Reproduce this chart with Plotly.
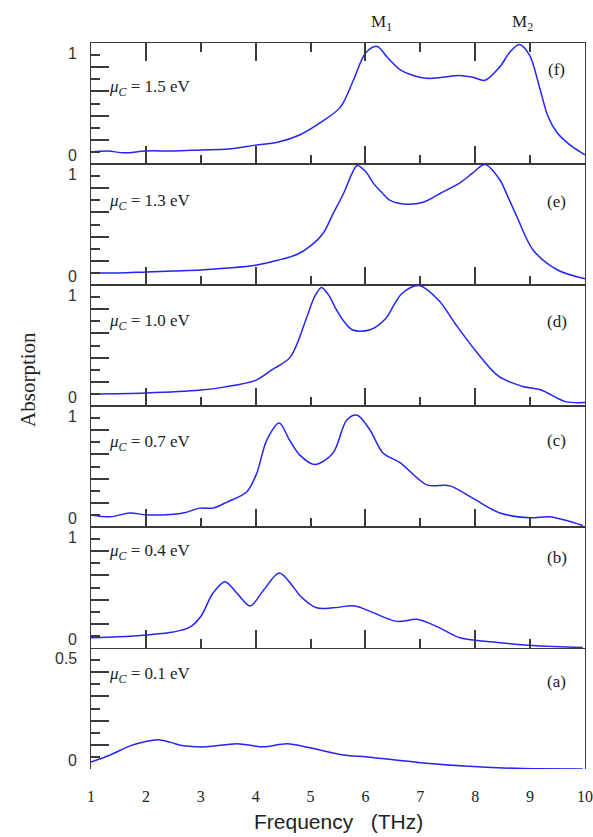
import plotly.graph_objects as go
from plotly.subplots import make_subplots

# ---------------- data ----------------
freq_ticks = [1, 2, 3, 4, 5, 6, 7, 8, 9, 10]
panel_letters = ["f", "e", "d", "c", "b", "a"]
mu_values = ["1.5", "1.3", "1.0", "0.7", "0.4", "0.1"]

f_x = [1.0, 1.3, 1.6, 2.0, 2.5, 3.0, 3.5, 4.0, 4.4, 4.8, 5.17, 5.54, 5.78, 6.0, 6.21, 6.41,
       6.63, 6.87, 7.12, 7.4, 7.72, 7.96, 8.18, 8.45, 8.63, 8.8, 8.99, 9.17, 9.33, 9.49, 9.73, 10.0]
f_y = [0.0, 0.01, -0.01, 0.01, 0.01, 0.02, 0.03, 0.07, 0.10, 0.175, 0.30, 0.46, 0.74, 1.02, 1.09, 0.97,
       0.85, 0.79, 0.76, 0.77, 0.79, 0.77, 0.74, 0.88, 1.03, 1.11, 1.0, 0.67, 0.36, 0.20, 0.07, -0.03]

e_x = [1.0, 1.5, 2.0, 2.5, 3.0, 3.5, 4.0, 4.4, 4.75, 5.0, 5.23, 5.4, 5.6, 5.75, 5.85, 6.0, 6.14,
       6.3, 6.45, 6.75, 7.05, 7.36, 7.72, 7.95, 8.18, 8.45, 8.6, 8.76, 9.05, 9.5, 10.0]
e_y = [0.0, 0.0, 0.01, 0.02, 0.03, 0.05, 0.08, 0.13, 0.19, 0.28, 0.41, 0.6, 0.82, 1.02, 1.11, 1.05, 0.93,
       0.83, 0.75, 0.71, 0.73, 0.82, 0.93, 1.03, 1.12, 0.96, 0.78, 0.58, 0.24, 0.03, -0.06]

d_x = [1.0, 2.0, 3.0, 3.42, 4.0, 4.3, 4.63, 4.93, 5.07, 5.2, 5.33, 5.47, 5.62, 5.77, 6.07, 6.37,
       6.52, 6.67, 6.97, 7.33, 7.63, 8.0, 8.43, 8.85, 9.2, 9.64, 10.0]
d_y = [0.0, 0.01, 0.04, 0.07, 0.14, 0.25, 0.38, 0.79, 1.0, 1.10, 1.02, 0.87, 0.74, 0.66, 0.66, 0.78,
       0.92, 1.04, 1.12, 0.97, 0.73, 0.45, 0.18, 0.08, 0.04, -0.08, -0.09]

c_x = [1.0, 1.35, 1.71, 2.02, 2.68, 2.98, 3.22, 3.47, 3.84, 4.02, 4.2, 4.43, 4.62, 4.8, 5.08, 5.41,
       5.66, 5.85, 6.08, 6.32, 6.63, 7.12, 7.54, 7.96, 8.45, 9.0, 9.36, 9.96]
c_y = [0.0, -0.02, 0.02, 0.0, 0.02, 0.07, 0.07, 0.13, 0.24, 0.43, 0.77, 0.95, 0.77, 0.62, 0.52, 0.64,
       0.98, 1.03, 0.88, 0.64, 0.54, 0.31, 0.30, 0.17, 0.02, -0.03, -0.02, -0.11]

b_x = [1.0, 1.5, 2.02, 2.5, 2.8, 3.0, 3.22, 3.44, 3.66, 3.9, 4.14, 4.43, 4.68, 4.8, 5.11, 5.41,
       5.81, 6.14, 6.57, 6.96, 7.36, 7.72, 8.45, 9.05, 9.96]
b_y = [-0.02, -0.01, 0.01, 0.04, 0.09, 0.2, 0.44, 0.56, 0.44, 0.31, 0.47, 0.65, 0.51, 0.42, 0.29, 0.29,
       0.31, 0.24, 0.15, 0.17, 0.08, -0.02, -0.07, -0.1, -0.12]

a_x = [1.0, 1.35, 1.71, 2.0, 2.23, 2.45, 2.69, 3.11, 3.66, 4.14, 4.57, 4.99, 5.6, 6.03, 7.0, 7.96, 8.87, 9.96]
a_y = [-0.026, 0.01, 0.057, 0.08, 0.089, 0.075, 0.057, 0.052, 0.068, 0.052, 0.068, 0.047, 0.01, 0.0,
       -0.03, -0.05, -0.06, -0.062]

series_x = [f_x, e_x, d_x, c_x, b_x, a_x]
series_y = [f_y, e_y, d_y, c_y, b_y, a_y]

y_full_range = [-0.125, 1.125]
y_small_range = [-0.0625, 0.5625]
y_long_ticks_full = [0.125, 0.375, 0.625, 0.875]
y_short_ticks_full = [0.0, 0.25, 0.5, 0.75, 1.0]
y_long_ticks_small = [0.0625, 0.1875, 0.3125, 0.4375]
y_short_ticks_small = [0.0, 0.125, 0.25, 0.375, 0.5]
y_label_full = [0, 1]
y_label_small = [0, 0.5]

x_long_ticks = [2, 4, 6, 8]
x_short_ticks = [3, 5, 7, 9]

mode_labels = ["M<sub>1</sub>", "M<sub>2</sub>"]
mode_x = [6.3, 8.87]

# ---------------- figure ----------------
AX = "#3a3a3a"
SERIF = "Liberation Serif, Times New Roman, serif"
SANS = "Liberation Sans, Arial, sans-serif"

fig = make_subplots(rows=6, cols=1, shared_xaxes=True, vertical_spacing=0)

for i in range(6):
    tr = go.Scatter(x=series_x[i], y=series_y[i], mode="lines",
                    line=dict(color="#2424f5", width=1.5, shape="spline", smoothing=0.9),
                    showlegend=False, hoverinfo="skip")
    if i < 5:
        fig.add_trace(tr, row=i + 1, col=1)
    else:
        # bottom panel drawn on the overlaying axis that carries the frequency labels
        tr.update(xaxis="x7", yaxis="y6")
        fig.add_trace(tr)

for r in range(1, 7):
    fig.update_xaxes(range=[1, 10], showline=True, linecolor=AX, linewidth=1.3, automargin=False,
                     mirror="allticks" if r == 1 else True,
                     ticks="inside", tickvals=x_long_ticks, ticklen=18, tickwidth=1.5, tickcolor=AX,
                     minor=dict(tickvals=x_short_ticks, ticklen=9, tickwidth=1.5, tickcolor=AX, ticks="inside"),
                     showticklabels=False, showgrid=False, zeroline=False, row=r, col=1)
    small = (r == 6)
    fig.update_yaxes(range=y_small_range if small else y_full_range, automargin=False,
                     showline=True, linecolor=AX, linewidth=1.3, mirror=True,
                     ticks="inside", tickvals=y_long_ticks_small if small else y_long_ticks_full,
                     ticklen=18, tickwidth=1.5, tickcolor=AX,
                     minor=dict(tickvals=y_short_ticks_small if small else y_short_ticks_full,
                                ticklen=9, tickwidth=1.5, tickcolor=AX, ticks="inside"),
                     showticklabels=False, showgrid=False, zeroline=False, row=r, col=1)

# bottom tick labels on an overlaying axis
fig.update_layout(xaxis7=dict(overlaying="x6", anchor="y6", side="bottom", range=[1, 10],
                              tickvals=freq_ticks, ticktext=[str(t) for t in freq_ticks],
                              ticks="", showline=False, showgrid=False, zeroline=False,
                              automargin=False,
                              tickfont=dict(family=SERIF, size=16, color="#222"),
                              ticklabelstandoff=16))

ann = []
mu_y = [0.938, 0.781, 0.616, 0.449, 0.299, 0.129]
let_y = [0.963, 0.781, 0.616, 0.453, 0.291, 0.120]
for i in range(6):
    ann.append(dict(x=0.032, y=mu_y[i], xref="paper", yref="paper", xanchor="left", yanchor="middle",
                    text=f"<i>μ<sub>C</sub></i> = {mu_values[i]} eV", showarrow=False,
                    font=dict(family=SERIF, size=17, color="#222")))
    ann.append(dict(x=0.943, y=let_y[i], xref="paper", yref="paper", xanchor="center", yanchor="middle",
                    text=f"({panel_letters[i]})", showarrow=False,
                    font=dict(family=SERIF, size=17, color="#222")))
    yref = "y" if i == 0 else f"y{i + 1}"
    labels = y_label_small if i == 5 else y_label_full
    for j, v in enumerate(labels):
        ann.append(dict(x=0, y=v, xref="paper", yref=yref, xanchor="right", yanchor="middle",
                        xshift=-12, yshift=-4 if j == 0 else 2,
                        text=str(v), showarrow=False, font=dict(family=SANS, size=16, color="#333")))

for lab, xv in zip(mode_labels, mode_x):
    ann.append(dict(x=xv, y=1.028, xref="x", yref="paper", xanchor="center", yanchor="middle",
                    text=lab, showarrow=False, font=dict(family=SERIF, size=17, color="#222")))

ann.append(dict(x=-0.1275, y=0.536, xref="paper", yref="paper", textangle=-90,
                xanchor="center", yanchor="middle", text="Absorption", showarrow=False,
                font=dict(family=SERIF, size=21, color="#222")))
ann.append(dict(x=0.5, y=-0.073, xref="paper", yref="paper", xanchor="center", yanchor="middle",
                text="Frequency\u00a0\u00a0\u00a0(THz)", showarrow=False,
                font=dict(family=SANS, size=21, color="#222")))

fig.update_layout(width=593, height=837, margin=dict(l=91, r=8, t=43, b=68, autoexpand=False),
                  paper_bgcolor="white", plot_bgcolor="white", annotations=ann, showlegend=False)

fig.write_html("out.html", config={"displayModeBar": False},
               post_script="document.body.style.margin='0';document.body.style.overflow='hidden';")
